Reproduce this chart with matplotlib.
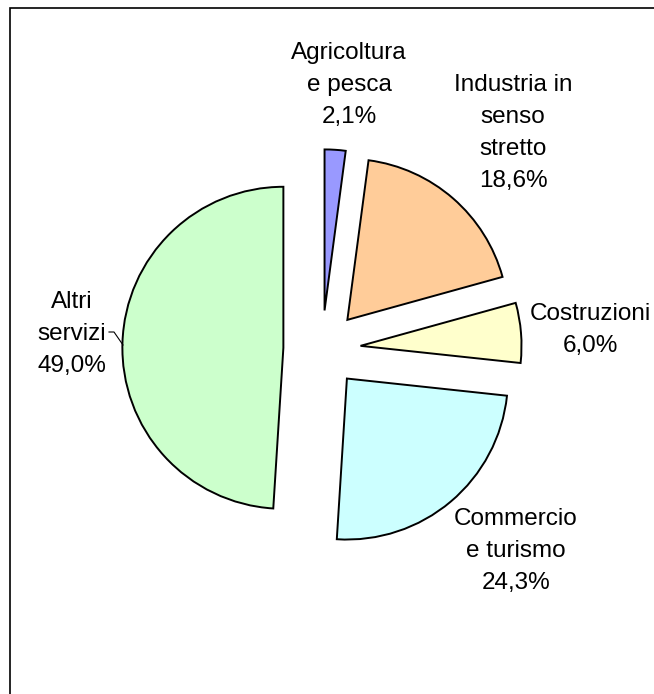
import matplotlib.pyplot as plt
from matplotlib.patches import Rectangle

# Sector shares (%)
sectors = ["Agricoltura\ne pesca", "Industria in\nsenso\nstretto", "Costruzioni",
           "Commercio\ne turismo", "Altri\nservizi"]
shares = [2.1, 18.6, 6.0, 24.3, 49.0]
colors = ["#9999FF", "#FFCC99", "#FFFFCC", "#CCFFFF", "#CCFFCC"]

plt.rcParams["font.family"] = ["Liberation Sans", "DejaVu Sans"]

W, H = 654, 694
R = 161.0          # pie radius in pixels
CX, CY = 322, 349  # pie centre in pixels


def px(x, y):
    """pixel position -> data position (radius = 1)"""
    return (x - CX) / R, (CY - y) / R


fig = plt.figure(figsize=(W / 100, H / 100), dpi=100)
ax = fig.add_axes([0, 0, 1, 1])

ax.pie(
    shares,
    colors=colors,
    startangle=90,
    counterclock=False,
    explode=[0.24] * len(shares),
    radius=1.0,
    wedgeprops=dict(edgecolor="black", linewidth=1.4),
)
ax.set_aspect("auto")
ax.set_xlim(-CX / R, (W - CX) / R)
ax.set_ylim(-(H - CY) / R, CY / R)
ax.axis("off")

# label positions (pixel centres)
label_pos = [(349, 85), (513, 133), (590, 330), (516, 551), (72, 334)]
for name, val, (x, y) in zip(sectors, shares, label_pos):
    txt = f"{name}\n{val:.1f}".replace(".", ",") + "%"
    ax.text(*px(x, y), txt, ha="center", va="center", fontsize=17.5,
            linespacing=1.6, color="black")

# leader line for "Altri servizi"
lx, ly = zip(*[px(109, 332), px(114, 332), px(123, 345)])
ax.plot(lx, ly, color="black", linewidth=0.8)

# outer frame (runs past right and bottom edges)
fig.patches.append(Rectangle((9.5 / W, -0.05), 1.2, (H - 7.5) / H + 0.05,
                             transform=fig.transFigure, fill=False,
                             edgecolor="black", linewidth=1.2))

fig.savefig("out.png", dpi=100)
